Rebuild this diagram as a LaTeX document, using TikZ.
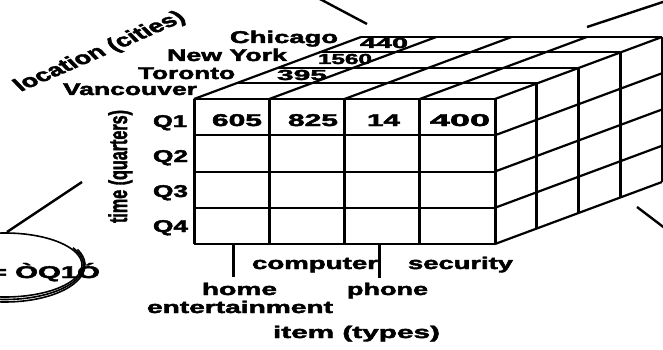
\documentclass[tikz,border=0pt]{standalone}
\usepackage{fontspec}
\setmainfont{Liberation Sans}[BoldFeatures={FakeBold=2.2}]
\newcommand\fw[2]{\resizebox{#1pt}{\height}{#2}}
\tikzset{
  lab/.style={inner sep=0pt, outer sep=0pt, anchor=base west, font=\fontsize{17}{17}\selectfont\bfseries},
  num/.style={lab, font=\fontsize{14.5}{14.5}\selectfont\bfseries},
  hl/.style={line width=2pt},
  vl/.style={line width=3pt},
  dl/.style={line width=2.2pt},
  callout/.style={line width=2.4pt}
}
\begin{document}
\begin{tikzpicture}[x=1pt,y=-1pt]
\useasboundingbox (0,0) rectangle (663,350);
\clip (0,0) rectangle (663,350);
% ---------- cube ----------
\def\dx{41.75}\def\dy{15.5}
% front face
\foreach \r in {99,135.25,171.5,207.75,244}{\draw[hl] (194,\r) -- (495,\r);}
\foreach \c in {194,269.25,344.5,419.75,495}{\draw[vl] (\c,99) -- (\c,244);}
% top face
\foreach \c in {194,269.25,344.5,419.75,495}{\draw[dl] (\c,99) -- ++(167,-62);}
\foreach \k in {1,2,3,4}{\draw[hl] (194+\dx*\k,99-\dy*\k) -- (495+\dx*\k,99-\dy*\k);}
% right face
\foreach \k in {1,2,3,4}{\draw[vl] (495+\dx*\k,99-\dy*\k) -- (495+\dx*\k,244-\dy*\k);}
\foreach \r in {135.25,171.5,207.75,244}{\draw[dl] (495,\r) -- ++(167,-62);}
% ---------- labels ----------
\node[lab] (chi) at (230,43) {\fw{108}{Chicago}};
\node[num] (v440) at (360,48) {\fw{48}{440}};
\node[lab] (ny) at (167,61) {\fw{120}{New York}};
\node[num] (v1560) at (318,64) {\fw{54}{1560}};
\node[lab] (tor) at (138,79) {\fw{97}{Toronto}};
\node[num] (v395) at (277,80) {\fw{50}{395}};
\node[lab] (van) at (63,95) {\fw{134}{Vancouver}};
\node[lab] (c605) at (212,126) {\fw{50}{605}};
\node[lab] (c825) at (288,126) {\fw{50}{825}};
\node[lab] (c14) at (367,126) {\fw{33}{14}};
\node[lab] (c400) at (430,126) {\fw{60}{400}};
\node[lab] (q1) at (153,127) {\fw{34}{Q1}};
\node[lab] (q2) at (153,162) {\fw{35}{Q2}};
\node[lab] (q3) at (153,197) {\fw{35}{Q3}};
\node[lab] (q4) at (153,232) {\fw{35}{Q4}};
\node[lab] (comp) at (252,269) {\fw{126}{computer}};
\node[lab] (sec) at (408,269) {\fw{105}{security}};
\node[lab] (home) at (202,295) {\fw{75}{home}};
\node[lab] (phone) at (347,295) {\fw{81}{phone}};
\node[lab] (ent) at (147,313) {\fw{186}{entertainment}};
\node[lab] (item) at (273,338) {\fw{167}{item (types)}};
\node[lab, anchor=base, rotate=90] (time) at (127,166.5) {\resizebox{113pt}{1.5\height}{time (quarters)}};
\begin{scope}[shift={(100,52)}, xscale=1.5]
\node[lab, anchor=center, rotate=33, transform shape, font=\fontsize{18}{18}\selectfont\bfseries] (loc) at (0,0) {location (cities)};
\end{scope}
% ticks
\coordinate (t1a) at (233,244); \coordinate (t1b) at (233,277);
\coordinate (t2a) at (379,244); \coordinate (t2b) at (379,278);
\draw[vl] (t1a) -- (t1b);
\draw[vl] (t2a) -- (t2b);
% ---------- ellipse ----------
\coordinate (ec) at (5,265);
\draw[line width=1.6pt] (ec) ellipse [x radius=77, y radius=32];
\draw[line width=1.6pt] (ec) ++(-30:78.5 and 34.5) arc[start angle=-30, end angle=120, x radius=78.5, y radius=34.5];
\draw[line width=1.6pt] (ec) ++(-25:80 and 37) arc[start angle=-25, end angle=120, x radius=80, y radius=37];
\node[lab, anchor=base east] (eq) at (100,278) {\fw{110}{= ÒQ1Ó}};
% ---------- callout lines ----------
\coordinate (a1) at (318,-2); \coordinate (a2) at (367,24);
\coordinate (b1) at (587,27); \coordinate (b2) at (666,1);
\coordinate (c1) at (637,207); \coordinate (c2) at (666,229);
\coordinate (d1) at (7,232); \coordinate (d2) at (82,182);
\draw[callout] (a1) -- (a2);
\draw[callout] (b1) -- (b2);
\draw[callout] (c1) -- (c2);
\draw[callout] (d1) -- (d2);
\end{tikzpicture}
\end{document}
